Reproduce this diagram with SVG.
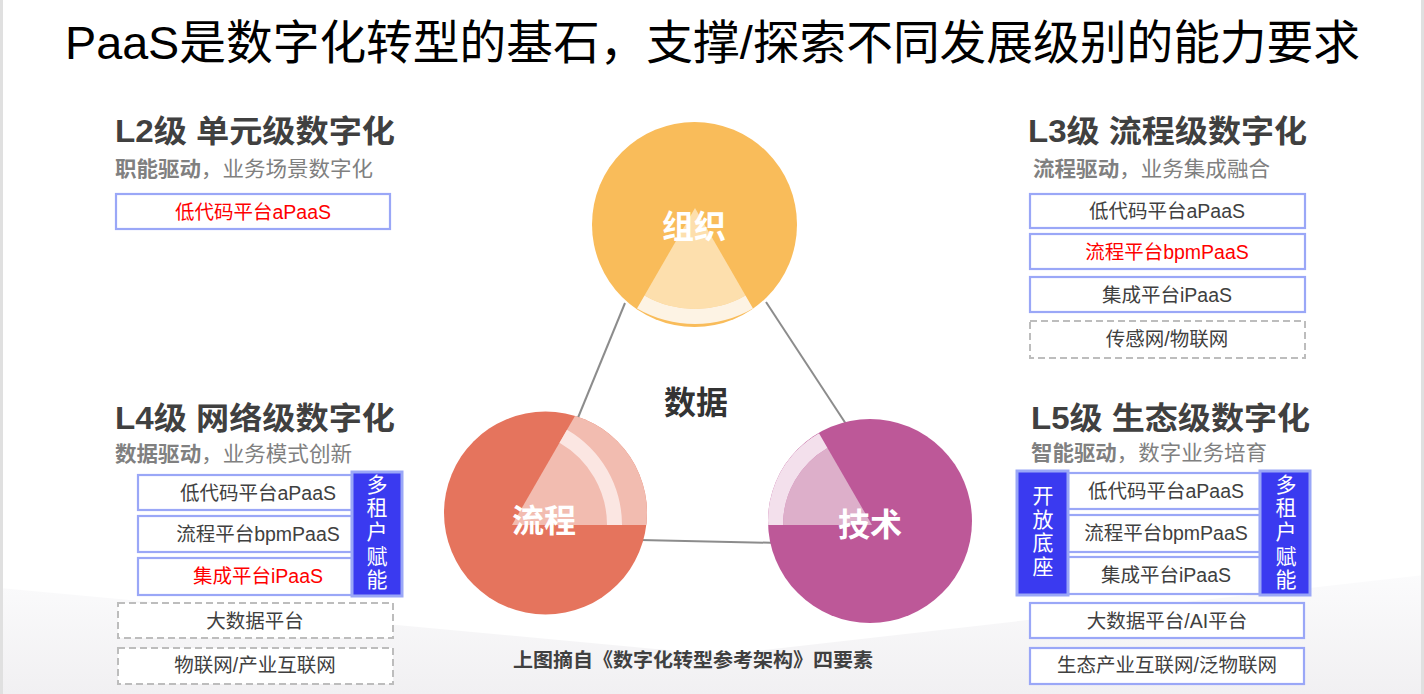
<svg xmlns="http://www.w3.org/2000/svg" width="1424" height="694" viewBox="0 0 1424 694">
<style>
text{font-family:"Liberation Sans","Noto Sans CJK SC",sans-serif}
.h{font-size:31px;font-weight:bold;fill:#404040}
.s{font-size:21px;fill:#808080}
.sb{font-weight:bold}
.bx{fill:#fff;stroke:#9aa7f7;stroke-width:2.2}
.dx{fill:#fff;stroke:#bdbdbd;stroke-width:2;stroke-dasharray:7 4}
.bl{fill:#3a3af0;stroke:#9aa7f7;stroke-width:3}
.t{font-size:19.5px;fill:#404040;text-anchor:middle}
.r{fill:#ff0000}
.v{font-size:21px;fill:#fff;text-anchor:middle}
.c{font-size:32px;font-weight:bold;fill:#fff;text-anchor:middle}
.ln{stroke:#8c8c8c;stroke-width:2;fill:none}
</style>
<defs>
<linearGradient id="bg" x1="0" y1="0" x2="0" y2="1">
<stop offset="0" stop-color="#fbfbfc"/>
<stop offset="1" stop-color="#f1f0f2"/>
</linearGradient>
<clipPath id="cl1"><circle cx="545.5" cy="513" r="101.5"/></clipPath>
<clipPath id="cl2"><circle cx="870" cy="521" r="102"/></clipPath>
</defs>
<rect x="0" y="0" width="1424" height="694" fill="#fff"/>
<polygon points="0,588 720,655 1424,575 1424,694 0,694" fill="url(#bg)"/>
<rect x="0" y="0" width="3" height="694" fill="#e0e0e0"/>
<rect x="1421" y="0" width="3" height="694" fill="#e0e0e0"/>

<text x="65" y="59" font-size="47" fill="#000" textLength="1295" lengthAdjust="spacingAndGlyphs">PaaS是数字化转型的基石，支撑/探索不同发展级别的能力要求</text>

<g id="connectors">
<line class="ln" x1="625" y1="303" x2="575" y2="425"/>
<line class="ln" x1="766" y1="302" x2="846" y2="424"/>
<line class="ln" x1="640" y1="540" x2="780" y2="543"/>
</g>

<g id="node-zuzhi">
<circle cx="694.5" cy="224.5" r="102.5" fill="#f9bc5a"/>
<path d="M695,208 L745.5,295.5 A101,101 0 0 1 644.5,295.5 Z" fill="#fddfad"/>
<path d="M745.5,295.5 L753,308.5 A116,116 0 0 1 637,308.5 L644.5,295.5 A101,101 0 0 0 745.5,295.5 Z" fill="#fdf3e4"/>
<text class="c" x="694" y="238">组织</text>
</g>

<g id="node-liucheng">
<circle cx="545.5" cy="513" r="101.5" fill="#e5745d"/>
<g clip-path="url(#cl1)">
<path d="M512,525 L652,525 A140,140 0 0 0 582,403.8 Z" fill="#f2bcb0"/>
<path d="M607,525 L622,525 A110,110 0 0 0 567,429.7 L559.5,442.7 A95,95 0 0 1 607,525 Z" fill="#fbe6e2"/>
</g>
<text class="c" x="544" y="532">流程</text>
</g>

<g id="node-jishu">
<circle cx="870" cy="521" r="102" fill="#bd5898"/>
<g clip-path="url(#cl2)">
<path d="M872,525 L783,525 A89,89 0 0 1 827.5,447.9 Z" fill="#ddafca"/>
<path d="M783,525 L766,525 A106,106 0 0 1 819,433.2 L827.5,447.9 A89,89 0 0 0 783,525 Z" fill="#f3e0ec"/>
</g>
<text class="c" x="870" y="536">技术</text>
</g>

<g id="node-shuju">
<text x="696" y="414" font-size="32" font-weight="bold" fill="#333" text-anchor="middle">数据</text>
</g>

<g id="node-caption">
<text x="693" y="667" font-size="19.5" font-weight="bold" fill="#404040" text-anchor="middle" textLength="360" lengthAdjust="spacingAndGlyphs">上图摘自《数字化转型参考架构》四要素</text>
</g>

<g id="node-l2">
<text class="h" x="115" y="142" textLength="280" lengthAdjust="spacingAndGlyphs">L2级 单元级数字化</text>
<text class="s" x="115" y="176" textLength="258" lengthAdjust="spacingAndGlyphs"><tspan class="sb">职能驱动</tspan>，业务场景数字化</text>
<rect class="bx" x="116" y="194" width="274" height="35"/>
<text class="t r" x="253" y="219">低代码平台aPaaS</text>
</g>

<g id="node-l3">
<text class="h" x="1028" y="142" textLength="279" lengthAdjust="spacingAndGlyphs">L3级 流程级数字化</text>
<text class="s" x="1033" y="176" textLength="237" lengthAdjust="spacingAndGlyphs"><tspan class="sb">流程驱动</tspan>，业务集成融合</text>
<rect class="bx" x="1030" y="194" width="275" height="34"/>
<text class="t" x="1167" y="218">低代码平台aPaaS</text>
<rect class="bx" x="1030" y="234" width="275" height="35"/>
<text class="t r" x="1167" y="259">流程平台bpmPaaS</text>
<rect class="bx" x="1030" y="277" width="275" height="35"/>
<text class="t" x="1167" y="302">集成平台iPaaS</text>
<rect class="dx" x="1030" y="321" width="275" height="37"/>
<text class="t" x="1167" y="346">传感网/物联网</text>
</g>

<g id="node-l4">
<text class="h" x="115" y="429" textLength="280" lengthAdjust="spacingAndGlyphs">L4级 网络级数字化</text>
<text class="s" x="115" y="461" textLength="237" lengthAdjust="spacingAndGlyphs"><tspan class="sb">数据驱动</tspan>，业务模式创新</text>
<rect class="bx" x="138" y="475" width="214" height="35"/>
<text class="t" x="258" y="500">低代码平台aPaaS</text>
<rect class="bx" x="138" y="516" width="214" height="36"/>
<text class="t" x="258" y="541">流程平台bpmPaaS</text>
<rect class="bx" x="138" y="558" width="214" height="37"/>
<text class="t r" x="258" y="583">集成平台iPaaS</text>
<rect class="bl" x="352" y="472" width="50" height="124"/>
<text class="v" x="377" y="492">多</text>
<text class="v" x="377" y="515">租</text>
<text class="v" x="377" y="539">户</text>
<text class="v" x="377" y="564">赋</text>
<text class="v" x="377" y="587">能</text>
<rect class="dx" x="118" y="603" width="275" height="35"/>
<text class="t" x="255" y="628">大数据平台</text>
<rect class="dx" x="118" y="648" width="275" height="36"/>
<text class="t" x="255" y="672">物联网/产业互联网</text>
</g>

<g id="node-l5">
<text class="h" x="1031" y="429" textLength="279" lengthAdjust="spacingAndGlyphs">L5级 生态级数字化</text>
<text class="s" x="1031" y="460" textLength="236" lengthAdjust="spacingAndGlyphs"><tspan class="sb">智能驱动</tspan>，数字业务培育</text>
<rect class="bx" x="1068" y="473" width="192" height="36"/>
<text class="t" x="1166" y="498">低代码平台aPaaS</text>
<rect class="bx" x="1068" y="515" width="192" height="37"/>
<text class="t" x="1166" y="540">流程平台bpmPaaS</text>
<rect class="bx" x="1068" y="557" width="192" height="37"/>
<text class="t" x="1166" y="582">集成平台iPaaS</text>
<rect class="bl" x="1017" y="471" width="51" height="124"/>
<text class="v" x="1043" y="503">开</text>
<text class="v" x="1043" y="527">放</text>
<text class="v" x="1043" y="550">底</text>
<text class="v" x="1043" y="574">座</text>
<rect class="bl" x="1260" y="471" width="50" height="124"/>
<text class="v" x="1286" y="492">多</text>
<text class="v" x="1286" y="515">租</text>
<text class="v" x="1286" y="539">户</text>
<text class="v" x="1286" y="564">赋</text>
<text class="v" x="1286" y="587">能</text>
<rect class="bx" x="1030" y="603" width="274" height="35"/>
<text class="t" x="1167" y="628">大数据平台/AI平台</text>
<rect class="bx" x="1030" y="648" width="274" height="36"/>
<text class="t" x="1167" y="672">生态产业互联网/泛物联网</text>
</g>
</svg>
